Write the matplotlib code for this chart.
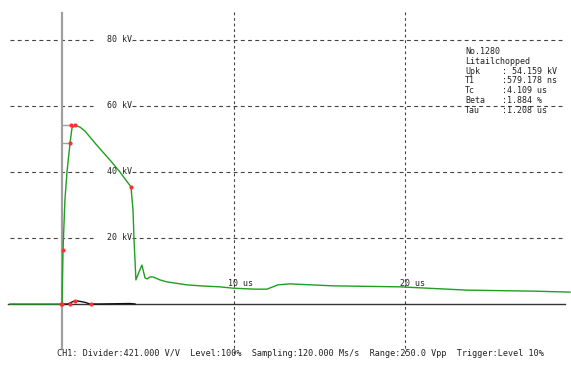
import matplotlib
matplotlib.use("Agg")
import matplotlib.pyplot as plt

# waveform: time in us, voltage in kV
t_wave = [-3.03, 0.0, 0.06, 0.17, 0.29, 0.47, 0.58, 0.76, 1.05, 1.34, 1.63, 1.92,
          2.22, 2.80, 3.38, 4.02, 4.14, 4.20, 4.31, 4.49, 4.66, 4.84, 4.96, 5.13,
          5.31, 5.71, 6.12, 7.29, 8.05, 9.21, 9.97, 11.25, 11.95, 12.59, 13.29,
          15.80, 19.71, 23.62, 27.46, 29.62]
v_wave = [0.0, 0.0, 16.4, 31.5, 40.0, 48.8, 53.3, 54.2, 53.6, 52.4, 50.6, 48.8,
          47.0, 43.6, 40.0, 35.5, 28.5, 19.4, 7.3, 9.7, 11.8, 7.9, 7.6, 8.2,
          8.2, 7.3, 6.7, 5.8, 5.5, 5.2, 4.8, 4.5, 4.5, 5.8, 6.1,
          5.5, 5.2, 4.2, 3.9, 3.6]

# residual curve (black)
t_res = [0.0, 0.35, 0.58, 0.76, 1.05, 1.34, 1.63, 2.22, 3.97, 4.26]
v_res = [0.0, 0.0, 0.6, 1.0, 0.8, 0.5, 0.0, 0.0, 0.15, 0.0]

# evaluation points (red)
t_pts = [0.0, 0.06, 0.47, 0.52, 0.76, 4.02]
v_pts = [0.0, 16.4, 48.8, 54.2, 54.2, 35.5]
t_res_pts = [-0.06, 0.47, 0.76, 1.67]
v_res_pts = [0.0, 0.0, 1.0, 0.0]

kv_levels = [20, 40, 60, 80]
us_marks = [10, 20]

info_names = ["Upk", "T1", "Tc", "Beta", "Tau"]
info_values = [": 54.159 kV", ":579.178 ns", ":4.109 us", ":1.884 %", ":1.208 us"]

footer = ("CH1: Divider:421.000 V/V  Level:100%  Sampling:120.000 Ms/s  "
          "Range:250.0 Vpp  Trigger:Level 10%")

W, H = 571, 365
x0, px_us = 62, 17.15     # pixel of t=0, pixels per us
y0, px_kv = 304, 3.3      # pixel of 0 kV, pixels per kV


def tx(px):
    return (px - x0) / px_us


def vy(py):
    return (y0 - py) / px_kv


fig = plt.figure(figsize=(W / 100, H / 100), dpi=100)
ax = fig.add_axes([0, 0, 1, 1])
ax.set_xlim(tx(0), tx(W))
ax.set_ylim(vy(H), vy(0))
ax.axis("off")

mono = "DejaVu Sans Mono"
tcol = "#222222"
gcol = "#444444"

# horizontal grid with a gap for the label
for lv in kv_levels:
    ax.plot([tx(10), tx(93)], [lv, lv], color=gcol, lw=0.8, dashes=(3.5, 3))
    ax.plot([tx(132), tx(565)], [lv, lv], color=gcol, lw=0.8, dashes=(3.5, 3))
    ax.text(tx(107), lv, "%d kV" % lv, fontsize=6, family=mono, color=tcol,
            va="center", ha="left")

# vertical grid
for m in us_marks:
    ax.plot([m, m], [vy(12), vy(355)], color=gcol, lw=0.8, dashes=(2.5, 2.5))
    ax.text(m - 0.3, vy(283), "%d us" % m, fontsize=6, family=mono, color=tcol,
            va="center", ha="left")

# zero line and t=0 axis
ax.plot([tx(8), tx(565)], [0, 0], color="#333333", lw=1)
ax.plot([0, 0], [vy(13), vy(349)], color="#a0a0a0", lw=1.6)

# front markers
ax.plot([0, 0.58], [54.2, 54.2], color="#a0a0a0", lw=1)
ax.plot([0, 0.47], [48.8, 48.8], color="#a0a0a0", lw=1)

ax.plot(t_res, v_res, color="#111111", lw=1)
ax.plot(t_wave, v_wave, color="#1f9e1f", lw=1)
ax.plot(t_pts, v_pts, "o", color="#ff3030", ms=2)
ax.plot(t_res_pts, v_res_pts, "o", color="#ff3030", ms=2)

# info block
ax.text(tx(465), vy(51), "No.1280", fontsize=6, family=mono, color=tcol, va="center")
ax.text(tx(465), vy(61), "Litailchopped", fontsize=6, family=mono, color=tcol, va="center")
for i, (nm, val) in enumerate(zip(info_names, info_values)):
    yy = vy(71 + i * 9.8)
    ax.text(tx(465), yy, nm, fontsize=6, family=mono, color=tcol, va="center")
    ax.text(tx(502), yy, val, fontsize=6, family=mono, color=tcol, va="center")

fig.text(57 / W, 1 - 353 / H, footer, fontsize=6.1, family=mono, color=tcol,
         va="center", ha="left")

fig.savefig("out.png", dpi=100)
